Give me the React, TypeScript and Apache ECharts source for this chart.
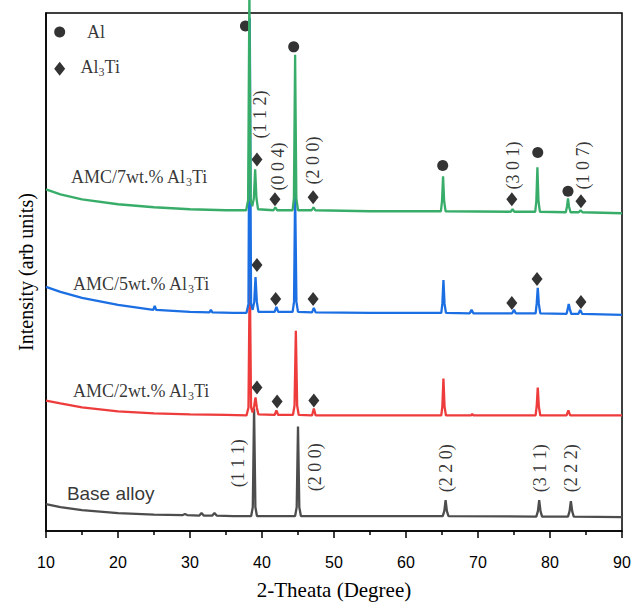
import React, { useEffect, useRef } from "react";
import * as echarts from "echarts";

// 2-theta (deg) vs intensity (arb. units, offset traces)
const baseAlloy: [number, number][] = [
  [10, 27], [12, 24], [15, 21], [20, 18], [25, 16.5], [29, 16], [29.3, 17], [29.6, 16],
  [31.3, 15.5], [31.6, 18], [31.9, 15.5], [33.1, 15.5], [33.4, 18], [33.7, 15.5], [36, 15],
  [38.5, 15], [38.72, 24], [38.9, 123], [39.08, 24], [39.3, 15],
  [44.6, 15], [44.82, 24], [45.0, 105], [45.18, 24], [45.4, 15], [55, 15],
  [65.1, 15], [65.32, 20], [65.5, 31], [65.68, 20], [65.9, 15],
  [78.1, 14.5], [78.32, 20], [78.5, 31], [78.68, 20], [78.9, 14.5],
  [82.5, 14.5], [82.72, 20], [82.9, 30], [83.08, 20], [83.3, 14.5], [90, 14],
];

const amc2: [number, number][] = [
  [10, 131], [12, 128], [15, 124], [20, 120], [25, 118], [30, 117], [35, 116.5],
  [37.85, 116], [38.12, 124], [38.3, 263], [38.48, 124], [38.7, 119], [38.92, 126], [39.1, 134],
  [39.28, 124], [39.5, 117], [41.75, 116.5], [42, 121], [42.25, 116.5],
  [44.3, 116.5], [44.52, 126], [44.7, 201], [44.88, 126], [45.1, 116.5],
  [46.95, 116], [47.2, 123], [47.45, 116], [55, 116],
  [64.9, 116], [65.05, 125], [65.2, 153], [65.35, 125], [65.55, 116],
  [69.05, 116], [69.2, 117.5], [69.35, 116],
  [78.0, 116], [78.15, 125], [78.3, 144], [78.45, 125], [78.65, 116],
  [82.3, 116], [82.55, 121], [82.8, 116], [90, 116],
];

const amc5: [number, number][] = [
  [10, 245], [12, 240], [15, 234], [20, 227], [24.9, 222], [25.1, 226], [25.3, 222], [30, 220],
  [32.7, 219.5], [32.9, 222], [33.1, 219.5], [36, 219],
  [37.85, 219], [38.12, 228], [38.3, 515], [38.48, 228], [38.7, 222], [38.92, 230], [39.1, 255],
  [39.28, 230], [39.5, 220], [41.75, 220], [42, 225], [42.25, 220],
  [44.25, 220], [44.45, 230], [44.6, 340], [44.78, 230], [45.0, 220],
  [46.95, 219.5], [47.2, 224], [47.45, 219.5], [55, 219],
  [64.9, 219], [65.05, 228], [65.2, 252], [65.35, 228], [65.55, 219],
  [68.85, 218.5], [69.1, 222], [69.35, 218.5], [74.75, 218.5], [75, 222], [75.25, 218.5],
  [78.0, 218.5], [78.15, 228], [78.3, 244], [78.45, 228], [78.65, 218.5],
  [82.3, 218], [82.47, 223], [82.6, 228], [82.75, 223], [82.95, 218],
  [83.95, 218], [84.2, 222], [84.45, 218], [90, 217],
];

const amc7: [number, number][] = [
  [10, 343], [12, 338], [15, 333], [20, 328], [25, 325], [30, 323], [35, 322],
  [37.8, 322], [38.07, 332], [38.25, 545], [38.43, 332], [38.65, 326], [38.87, 334], [39.05, 363],
  [39.23, 334], [39.45, 323], [41.6, 322], [41.85, 325], [42.1, 322],
  [44.25, 322], [44.43, 334], [44.6, 478], [44.77, 334], [45.0, 322],
  [46.9, 322], [47.15, 325], [47.4, 322], [55, 321],
  [64.85, 321], [65.0, 331], [65.15, 356], [65.3, 331], [65.5, 321],
  [74.55, 320.5], [74.8, 323], [75.05, 320.5],
  [77.95, 320.5], [78.1, 331], [78.25, 365], [78.4, 331], [78.6, 320.5],
  [82.2, 320], [82.37, 326], [82.5, 334], [82.63, 326], [82.85, 320],
  [84.0, 320], [84.25, 322], [84.5, 320], [90, 319],
];

// phase markers
const alMarkers: [number, number][] = [
  [37.7, 507], [44.4, 486], [65.1, 367], [78.3, 380], [82.5, 341], [11.9, 501],
];
const al3TiMarkers: [number, number][] = [
  [39.3, 373], [41.8, 333], [47.1, 335], [74.7, 333], [84.3, 331],
  [39.3, 267], [41.9, 233], [47.1, 233], [74.7, 229], [78.2, 253], [84.3, 230],
  [39.3, 144], [42.1, 130], [47.2, 131],
  [11.9, 464],
];

// Miller index labels (vertical)
const hklLabels: [number, number, string][] = [
  [39.7, 418, "(1 1 2)"], [42.2, 366, "(0 0 4)"], [47.1, 372, "(2 0 0)"],
  [74.9, 367, "(3 0 1)"], [84.6, 367, "(1 0 7)"],
  [36.7, 68, "(1 1 1)"], [47.4, 64, "(2 0 0)"], [65.6, 63, "(2 2 0)"],
  [78.6, 63, "(3 1 1)"], [82.9, 63, "(2 2 2)"],
];

// sample labels: [x, y, prefix, subscript, suffix]
const sampleLabels: [number, number, string, string, string][] = [
  [13.47, 355, "AMC/7wt.% Al", "3", "Ti"],
  [13.75, 248, "AMC/5wt.% Al", "3", "Ti"],
  [13.75, 141, "AMC/2wt.% Al", "3", "Ti"],
];
const baseLabel: [number, number, string] = [12.9, 38, "Base alloy"];

const legendLabels: [number, number, string, string, string][] = [
  [15.7, 501, "Al", "", ""],
  [14.8, 466, "Al", "3", "Ti"],
];

const xTicks = { min: 10, max: 90, interval: 10 };

const SERIF = "Liberation Serif";
const SANS = "Liberation Sans";

const richStyle = {
  a: { fontFamily: SERIF, fontSize: 18, color: "#000", lineHeight: 22 },
  s: { fontFamily: SERIF, fontSize: 12, color: "#000", lineHeight: 12, verticalAlign: "bottom", padding: [8, 0, 0, 0] },
};

function richText(p: string, s: string, t: string) {
  let out = `{a|${p}}`;
  if (s) out += `{s|${s}}`;
  if (t) out += `{a|${t}}`;
  return out;
}

export default function App() {
  const ref = useRef<HTMLDivElement>(null);
  useEffect(() => {
    if (!ref.current) return;
    const chart = echarts.init(ref.current, null, { renderer: "svg" });
    const lineSeries = (name: string, data: [number, number][], color: string) => ({
      type: "line",
      name,
      data,
      symbol: "none",
      clip: false,
      silent: true,
      lineStyle: { color, width: 2.3 },
    });
    const textSeries = (data: any[], label: any) => ({
      type: "scatter",
      data,
      symbolSize: 0,
      silent: true,
      clip: false,
      label: { show: true, ...label },
    });
    chart.setOption({
      animation: false,
      backgroundColor: "#fff",
      grid: {
        left: 46,
        right: 20,
        top: 13,
        bottom: 72,
        show: true,
        borderColor: "#000",
        borderWidth: 1.5,
        backgroundColor: "transparent",
      },
      xAxis: {
        type: "value",
        min: xTicks.min,
        max: xTicks.max,
        interval: xTicks.interval,
        axisLine: { show: true, lineStyle: { color: "#000", width: 1.5 } },
        axisTick: { show: true, inside: false, length: 7, lineStyle: { color: "#000", width: 1.5 } },
        minorTick: { show: true, splitNumber: 2, length: 4, lineStyle: { color: "#000", width: 1.5 } },
        splitLine: { show: false },
        minorSplitLine: { show: false },
        axisLabel: { color: "#000", fontFamily: SANS, fontSize: 16, margin: 23 },
        name: "2-Theata (Degree)",
        nameLocation: "middle",
        nameGap: 48,
        nameTextStyle: { color: "#000", fontFamily: SERIF, fontSize: 21, fontWeight: "normal" },
      },
      yAxis: {
        type: "value",
        min: 0,
        max: 520,
        axisLine: { show: true, lineStyle: { color: "#000", width: 1.5 } },
        axisTick: { show: false },
        axisLabel: { show: false },
        splitLine: { show: false },
        name: "Intensity (arb units)",
        nameLocation: "middle",
        nameGap: 10,
        nameTextStyle: { color: "#000", fontFamily: SERIF, fontSize: 20, fontWeight: "normal" },
      },
      series: [
        lineSeries("Base alloy", baseAlloy, "#4d4d4d"),
        lineSeries("AMC/2wt.% Al3Ti", amc2, "#ee3b3b"),
        lineSeries("AMC/5wt.% Al3Ti", amc5, "#1c6fe3"),
        lineSeries("AMC/7wt.% Al3Ti", amc7, "#38ad6a"),
        {
          type: "scatter",
          data: al3TiMarkers,
          symbol: "diamond",
          symbolSize: [11, 14],
          itemStyle: { color: "#000" },
          silent: true,
          clip: false,
        },
        {
          type: "scatter",
          data: alMarkers,
          symbol: "circle",
          symbolSize: 11,
          itemStyle: { color: "#000" },
          silent: true,
          clip: false,
        },
        textSeries(
          hklLabels.map((d) => ({ value: [d[0], d[1]], name: d[2] })),
          {
            position: "inside",
            rotate: 90,
            formatter: (p: any) => `{h|${p.name}}`,
            rich: { h: { fontFamily: SERIF, fontSize: 18, color: "#000" } },
          }
        ),
        textSeries(
          [...sampleLabels, ...legendLabels].map((d) => ({
            value: [d[0], d[1]],
            name: richText(d[2], d[3], d[4]),
          })),
          {
            position: "right",
            distance: 0,
            formatter: (p: any) => p.name,
            rich: richStyle,
          }
        ),
        textSeries(
          [{ value: [baseLabel[0], baseLabel[1]], name: baseLabel[2] }],
          {
            position: "right",
            distance: 0,
            formatter: (p: any) => `{b|${p.name}}`,
            rich: { b: { fontFamily: SANS, fontSize: 19, color: "#000" } },
          }
        ),
      ],
    });
    return () => chart.dispose();
  }, []);
  return (
    <div
      ref={ref}
      style={{ position: "fixed", left: 0, top: 0, width: 642, height: 605, background: "#fff" }}
    />
  );
}
